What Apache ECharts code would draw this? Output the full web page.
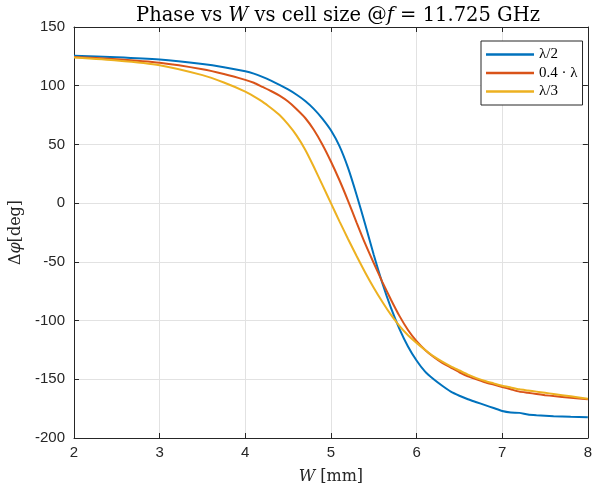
<!DOCTYPE html>
<html>
<head>
<meta charset="utf-8">
<script src="https://cdn.jsdelivr.net/npm/echarts@6/dist/echarts.min.js"></script>
<style>html,body{margin:0;padding:0;background:#fff}#c{width:595px;height:491px}</style>
</head>
<body>
<div id="c"></div>
<script>
// W [mm] sample points (shared by all three curves)
const W = [2, 2.5, 3, 3.5, 3.75, 4, 4.1, 4.2, 4.3, 4.4, 4.5, 4.6, 4.7, 4.8, 4.9, 5.0, 5.1, 5.2, 5.3, 5.4, 5.5, 5.6, 5.7, 5.8, 5.9, 6.0, 6.1, 6.2, 6.3, 6.4, 6.5, 6.6, 6.7, 6.8, 6.9, 7.0, 7.1, 7.2, 7.3, 7.4, 7.5, 7.6, 7.8, 8.0];
// Δφ [deg] for cell size λ/2
const halfLambda = [125.5, 124.3, 122.3, 118.5, 115.8, 112.3, 110.3, 107.5, 104.3, 100.7, 96.8, 92.3, 87, 80.3, 72, 62, 48.5, 30, 7, -18, -44, -68, -89, -107, -122, -134, -143.5, -150, -155.5, -160.5, -164, -167, -169.5, -172, -174.5, -177, -178.3, -178.6, -180, -180.6, -181, -181.4, -182, -182.3];
// Δφ [deg] for cell size 0.4·λ
const pointFourLambda = [124.5, 122.5, 119.5, 114, 110, 105, 102.5, 99, 95.5, 91.5, 86.5, 80, 72.5, 62.5, 50, 35.5, 19.5, 2, -16.5, -34.5, -51, -67, -82, -96, -108, -117.5, -125, -131, -136, -140, -144, -147.5, -150, -152.5, -154.5, -156.5, -158.5, -160.5, -161.5, -162.5, -163.5, -164.3, -165.8, -167];
// Δφ [deg] for cell size λ/3
const thirdLambda = [124, 121.5, 117.5, 109, 102.7, 95, 91, 86.5, 81, 75, 67, 57.5, 45.5, 31, 15.5, 0, -15.5, -30.5, -45, -59, -72, -84, -95, -104.5, -112.5, -119, -125, -130.5, -135, -139, -142.5, -146, -149, -151.5, -153.5, -155.5, -157, -158.5, -159.5, -160.5, -161.5, -162.5, -164.5, -166.6];
const seriesNames = ['λ/2', '0.4 · λ', 'λ/3'];
const xTicks = {min: 2, max: 8, interval: 1};
const yTicks = {min: -200, max: 150, interval: 50};

const colors = ['#0072BD', '#D95319', '#EDB120'];
const serif = '"DejaVu Serif", "Liberation Serif", serif';
const tserif = '"Liberation Serif", "DejaVu Serif", serif';
const sans = '"Liberation Sans", Arial, Helvetica, sans-serif';
const axisCol = '#262626';

function pairs(ys) { return W.map((w, i) => [w, ys[i]]); }

const chart = echarts.init(document.getElementById('c'), null, {renderer: 'canvas'});
const baseAxis = {
  axisLine: {show: true, onZero: false, lineStyle: {color: axisCol, width: 1}},
  axisTick: {show: true, inside: true, length: 5, lineStyle: {color: axisCol}},
  splitLine: {show: false}
};
chart.setOption({
  animation: false,
  backgroundColor: '#ffffff',
  color: colors,
  title: {
    text: 'Phase vs {i|W} vs cell size @{i|f} = 11.725 GHz',
    left: 333, top: 1, textAlign: 'center',
    textStyle: {
      fontFamily: serif, fontSize: 19.5, fontWeight: 'normal', color: '#000',
      rich: {i: {fontFamily: serif, fontSize: 19.5, fontStyle: 'italic', color: '#000'}}
    }
  },
  grid: {left: 74, right: 5, top: 27, bottom: 53, containLabel: false},
  legend: {
    data: seriesNames,
    left: 481, top: 41, orient: 'vertical',
    icon: 'rect', itemWidth: 48, itemHeight: 2.5, itemGap: 3.5,
    padding: [6, 5, 6, 5],
    borderColor: axisCol, borderWidth: 1, backgroundColor: '#fff',
    textStyle: {fontFamily: tserif, fontSize: 15, color: '#000', lineHeight: 14}
  },
  xAxis: [
    Object.assign({}, baseAxis, {
      type: 'value', position: 'bottom', min: xTicks.min, max: xTicks.max, interval: xTicks.interval,
      axisLabel: {color: axisCol, fontFamily: sans, fontSize: 15, margin: 7},
      splitLine: {show: true, lineStyle: {color: '#e2e2e2', width: 1}},
      name: '{i|W} [mm]', nameLocation: 'middle', nameGap: 31,
      nameTextStyle: {fontFamily: serif, fontSize: 16, color: axisCol,
        rich: {i: {fontFamily: serif, fontSize: 16, fontStyle: 'italic', color: axisCol}}}
    }),
    Object.assign({}, baseAxis, {
      type: 'value', position: 'top', min: xTicks.min, max: xTicks.max, interval: xTicks.interval,
      axisLabel: {show: false}
    })
  ],
  yAxis: [
    Object.assign({}, baseAxis, {
      type: 'value', position: 'left', min: yTicks.min, max: yTicks.max, interval: yTicks.interval,
      axisLabel: {color: axisCol, fontFamily: sans, fontSize: 15, margin: 9},
      splitLine: {show: true, lineStyle: {color: '#e2e2e2', width: 1}},
      name: 'Δ{i|φ}[deg]', nameLocation: 'middle', nameGap: 43, nameRotate: 90,
      nameTextStyle: {fontFamily: serif, fontSize: 16, color: axisCol,
        rich: {i: {fontFamily: serif, fontSize: 16, fontStyle: 'italic', color: axisCol}}}
    }),
    Object.assign({}, baseAxis, {
      type: 'value', position: 'right', min: yTicks.min, max: yTicks.max, interval: yTicks.interval,
      axisLabel: {show: false}
    })
  ],
  series: [halfLambda, pointFourLambda, thirdLambda].map((ys, k) => ({
    name: seriesNames[k], type: 'line', data: pairs(ys),
    xAxisIndex: 0, yAxisIndex: 0,
    showSymbol: false, symbol: 'none', smooth: 0.2,
    lineStyle: {width: 2, color: colors[k]}, z: 3 + k
  }))
});
</script>
</body>
</html>
